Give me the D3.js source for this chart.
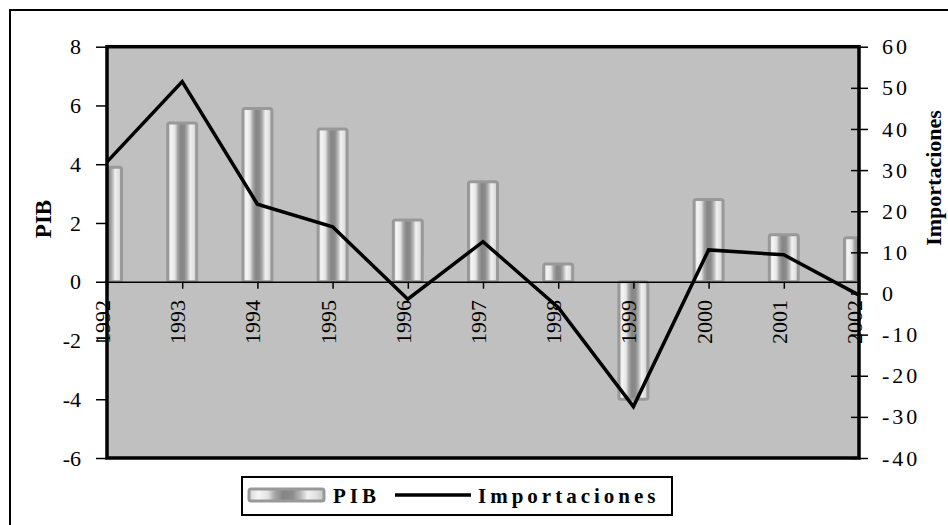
<!DOCTYPE html>
<html>
<head>
<meta charset="utf-8">
<script src="https://cdn.jsdelivr.net/npm/d3@7"></script>
<style>
  body { margin: 0; background: #fff; }
  svg text { font-family: "Liberation Serif", "Times New Roman", serif; fill: #000; }
</style>
</head>
<body>
<div id="chart"></div>
<script>
// values
var years = ['1992','1993','1994','1995','1996','1997','1998','1999','2000','2001','2002'];
var pib = [3.9, 5.4, 5.9, 5.2, 2.1, 3.4, 0.6, -4.0, 2.8, 1.6, 1.5];
var importaciones = [32.0, 51.5, 21.7, 16.2, -1.4, 12.6, -3.4, -27.5, 10.6, 9.4, -0.4];
var pibTicks = [-6, -4, -2, 0, 2, 4, 6, 8];
var impTicks = [-40, -30, -20, -10, 0, 10, 20, 30, 40, 50, 60];

var serif = '"Liberation Serif", "Times New Roman", serif';

function plain(d){ return String(d); }   // keep the ascii hyphen for negatives

function drawChart(){
  'use strict';
  var width = 948, height = 525;
  var left = 107, right = 859, top = 46.7, bottom = 458;

  var svg = d3.select('#chart').append('svg')
    .attr('width', width)
    .attr('height', height)
    .attr('font-family', serif);

  // cylinder look for the bars
  var defs = svg.append('defs');
  var grad = defs.append('linearGradient')
    .attr('id', 'cyl').attr('x1', '0%').attr('x2', '100%').attr('y1', '0%').attr('y2', '0%');
  [[0, '#d4d4d4'], [0.12, '#f6f6f6'], [0.25, '#e4e4e4'], [0.34, '#a8a8a8'],
   [0.45, '#858585'], [0.58, '#8c8c8c'], [0.68, '#b4b4b4'], [0.78, '#f0f0f0'],
   [0.9, '#e0e0e0'], [1, '#c4c4c4']].forEach(function(s){
    grad.append('stop').attr('offset', s[0]).attr('stop-color', s[1]);
  });
  defs.append('clipPath').attr('id', 'plotclip')
    .append('rect').attr('x', left).attr('y', top).attr('width', right - left).attr('height', bottom - top);

  // outer chart frame (runs off the right and bottom)
  svg.append('rect')
    .attr('x', 10).attr('y', 10).attr('width', 960).attr('height', 540)
    .attr('fill', 'none').attr('stroke', '#000').attr('stroke-width', 2);

  var x = d3.scalePoint().domain(years).range([left, right]);
  var yL = d3.scaleLinear().domain([-6, 8]).range([bottom, top]);
  var yR = d3.scaleLinear().domain([-40, 60]).range([bottom, top]);

  svg.append('rect')
    .attr('x', left).attr('y', top).attr('width', right - left).attr('height', bottom - top)
    .attr('fill', '#c0c0c0');

  // bars
  var barW = 29;
  svg.append('g').attr('clip-path', 'url(#plotclip)')
    .selectAll('rect')
    .data(pib)
    .enter()
    .append('rect')
    .attr('x', function(d, i){ return x(years[i]) - barW / 2; })
    .attr('y', function(d){ return yL(Math.max(0, d)); })
    .attr('width', barW)
    .attr('height', function(d){ return Math.abs(yL(d) - yL(0)); })
    .attr('rx', 2)
    .attr('fill', 'url(#cyl)')
    .attr('stroke', '#999')
    .attr('stroke-width', 3);

  // zero line + category ticks/labels
  var xAxis = svg.append('g')
    .attr('transform', 'translate(0,' + yL(0) + ')')
    .call(d3.axisBottom(x).tickSize(7).tickSizeOuter(0).tickFormat(''));
  xAxis.select('.domain').attr('stroke', '#000').attr('stroke-width', 1.5);
  xAxis.selectAll('.tick line').attr('stroke', '#000').attr('stroke-width', 1.5);

  svg.append('g').selectAll('text')
    .data(years)
    .enter()
    .append('text')
    .attr('transform', function(d){ return 'translate(' + (x(d) + 3) + ',' + 300 + ') rotate(-90)'; })
    .attr('text-anchor', 'end')
    .attr('font-family', serif)
    .attr('font-size', '22px')
    .text(function(d){ return d; });

  // importaciones line
  var line = d3.line()
    .x(function(d, i){ return x(years[i]); })
    .y(function(d){ return yR(d); });
  svg.append('path')
    .datum(importaciones)
    .attr('d', line)
    .attr('fill', 'none')
    .attr('stroke', '#000')
    .attr('stroke-width', 3.5)
    .attr('stroke-linejoin', 'miter');

  // plot frame
  svg.append('rect')
    .attr('x', left).attr('y', top).attr('width', right - left).attr('height', bottom - top)
    .attr('fill', 'none').attr('stroke', '#000').attr('stroke-width', 3.5);

  // left axis
  var gl = svg.append('g')
    .attr('transform', 'translate(' + left + ',0)')
    .call(d3.axisLeft(yL).tickValues(pibTicks).tickFormat(plain).tickSize(11).tickPadding(15));
  gl.attr('font-family', serif);
  gl.select('.domain').remove();
  gl.selectAll('.tick line').attr('stroke', '#000').attr('stroke-width', 1.5);
  gl.selectAll('.tick text').attr('font-size', '22px').attr('font-family', serif);

  // right axis, ticks cross the frame
  var gr = svg.append('g')
    .attr('transform', 'translate(' + right + ',0)')
    .call(d3.axisRight(yR).tickValues(impTicks).tickFormat(plain).tickSize(9).tickPadding(14));
  gr.attr('font-family', serif);
  gr.select('.domain').remove();
  gr.selectAll('.tick line').attr('x1', -8).attr('stroke', '#000').attr('stroke-width', 1.5);
  gr.selectAll('.tick text').attr('font-size', '22px').attr('font-family', serif)
    .attr('letter-spacing', '3px');

  // axis titles
  svg.append('text')
    .attr('transform', 'translate(51,219) rotate(-90)')
    .attr('text-anchor', 'middle')
    .attr('font-size', '23px').attr('font-weight', 'bold')
    .text('PIB');
  svg.append('text')
    .attr('transform', 'translate(941,178) rotate(-90)')
    .attr('text-anchor', 'middle')
    .attr('font-size', '22px').attr('font-weight', 'bold')
    .text('Importaciones');

  // legend
  var lg = svg.append('g');
  lg.append('rect')
    .attr('x', 242).attr('y', 477).attr('width', 430).attr('height', 38)
    .attr('fill', '#fff').attr('stroke', '#000').attr('stroke-width', 2);
  lg.append('rect')
    .attr('x', 249).attr('y', 489).attr('width', 75).attr('height', 12).attr('rx', 2)
    .attr('fill', 'url(#cyl)').attr('stroke', '#999').attr('stroke-width', 3);
  lg.append('text')
    .attr('x', 333).attr('y', 503)
    .attr('font-size', '21px').attr('font-weight', 'bold').attr('letter-spacing', '4px')
    .text('PIB');
  lg.append('line')
    .attr('x1', 395).attr('x2', 471).attr('y1', 495).attr('y2', 495)
    .attr('stroke', '#000').attr('stroke-width', 3.5);
  lg.append('text')
    .attr('x', 478).attr('y', 503)
    .attr('font-size', '21px').attr('font-weight', 'bold').attr('letter-spacing', '4px')
    .text('Importaciones');
}

drawChart();
</script>
</body>
</html>
